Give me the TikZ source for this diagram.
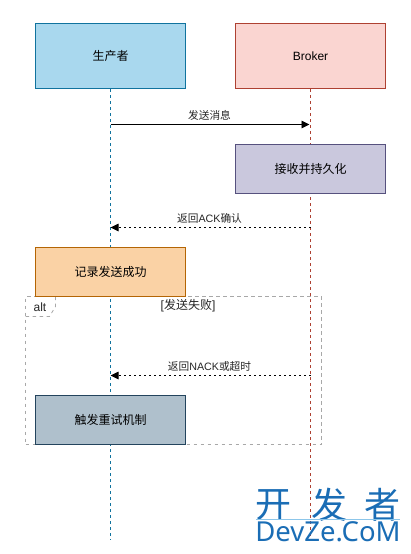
\documentclass[tikz,border=0pt]{standalone}
\usepackage{fontspec}
\setmainfont{Liberation Sans}
\newfontfamily\cjk{Noto Sans CJK SC}
\newfontfamily\wmfont{Noto Sans}
\usetikzlibrary{arrows.meta}
\definecolor{bluefill}{HTML}{A9D8EE}
\definecolor{bluedraw}{HTML}{10739E}
\definecolor{redfill}{HTML}{FAD5D1}
\definecolor{reddraw}{HTML}{AE4132}
\definecolor{purplefill}{HTML}{CAC8DD}
\definecolor{purpledraw}{HTML}{56517E}
\definecolor{orangefill}{HTML}{FAD2A5}
\definecolor{orangedraw}{HTML}{B46504}
\definecolor{grayfill}{HTML}{AFC0CC}
\definecolor{graydraw}{HTML}{23445D}
\definecolor{framecol}{HTML}{A8A8A8}
\definecolor{wmblue}{HTML}{1A6DB5}
\definecolor{wmline}{HTML}{8CC6EA}
\tikzset{
  x=1pt,y=-1pt,
  actor/.style={draw,line width=1pt,minimum width=150pt,minimum height=65pt,inner sep=0pt,font=\fontsize{12}{14}\selectfont},
  taskbox/.style={draw,line width=1pt,minimum width=150pt,minimum height=49pt,inner sep=0pt,font=\cjk\fontsize{12}{14}\selectfont},
  lifeline/.style={line width=0.8pt,dash pattern=on 3pt off 3pt},
  msg/.style={line width=0.9pt,-{Triangle[length=8pt,width=7.5pt]}},
  reply/.style={msg,dash pattern=on 2pt off 3pt},
  msglabel/.style={inner sep=0pt,font=\fontsize{10.7}{13}\selectfont,text=black!85},
  framestyle/.style={draw=framecol,line width=0.8pt,dash pattern=on 3.5pt off 3.5pt},
}
\begin{document}
\begin{tikzpicture}
\useasboundingbox (0,0) rectangle (411,554);
% end points of lifelines and messages
\coordinate (pEnd) at (110.5,540);
\coordinate (bEnd) at (310.5,539);
\coordinate (p1) at (110.5,124.5);
\coordinate (b1) at (309.5,124.5);
\coordinate (b2) at (310.5,227.5);
\coordinate (p2) at (110.5,227.5);
\coordinate (b3) at (310.5,375.5);
\coordinate (p3) at (110.5,375.5);
% frame
\node[framestyle,minimum width=296pt,minimum height=148pt,inner sep=0pt] (frame) at (173.5,370.5) {};
\coordinate (tabA) at (25.5,316.5);
\coordinate (tabB) at (49.5,316.5);
\coordinate (tabC) at (55.5,306.5);
\coordinate (tabD) at (55.5,296.5);
\draw[framestyle] (tabA) -- (tabB) -- (tabC) -- (tabD);
% actors
\node[actor,fill=bluefill,draw=bluedraw,font=\cjk\fontsize{12}{14}\selectfont] (producer) at (110.5,56) {生产者};
\node[actor,fill=redfill,draw=reddraw] (broker) at (310.5,56) {Broker};
% lifelines
\draw[lifeline,draw=bluedraw] (producer.south) -- (pEnd);
\draw[lifeline,draw=reddraw] (broker.south) -- (bEnd);
% activity boxes
\node[taskbox,fill=purplefill,draw=purpledraw] (persist) at (310.5,169) {接收并持久化};
\node[taskbox,fill=orangefill,draw=orangedraw] (record) at (110.5,272) {记录发送成功};
\node[taskbox,fill=grayfill,draw=graydraw] (retry) at (110.5,420) {触发重试机制};
% frame labels
\node[inner sep=0pt,font=\fontsize{12}{14}\selectfont,text=black!85] (alt) at (40,307) {alt};
\node[inner sep=0pt,font=\fontsize{12}{14}\selectfont,text=black!85] (cond) at (188,306) {[{\cjk 发送失败}]};
% messages
\draw[msg] (p1) -- (b1);
\node[msglabel,font=\cjk\fontsize{10.7}{13}\selectfont] (l1) at (209.5,115) {发送消息};
\draw[reply] (b2) -- (p2);
\node[msglabel] (l2) at (209.5,218) {{\cjk 返回}ACK{\cjk 确认}};
\draw[reply] (b3) -- (p3);
\node[msglabel] (l3) at (209.5,366) {{\cjk 返回}NACK{\cjk 或超时}};
% watermark
\node[inner sep=0pt,text=wmblue,font=\cjk\fontsize{36}{40}\selectfont] (w1) at (273,505) {开};
\node[inner sep=0pt,text=wmblue,font=\cjk\fontsize{36}{40}\selectfont] (w2) at (329,505) {发};
\node[inner sep=0pt,text=wmblue,font=\cjk\fontsize{36}{40}\selectfont] (w3) at (382.5,505) {者};
\coordinate (wl) at (256,519.5);
\coordinate (wr) at (400,519.5);
\draw[wmline,line width=0.8pt] (wl) -- (wr);
\node[inner sep=0pt,text=wmblue,font=\wmfont\fontsize{27.5}{30}\selectfont] (w4) at (328,532) {DevZe.CoM};
\end{tikzpicture}
\end{document}
